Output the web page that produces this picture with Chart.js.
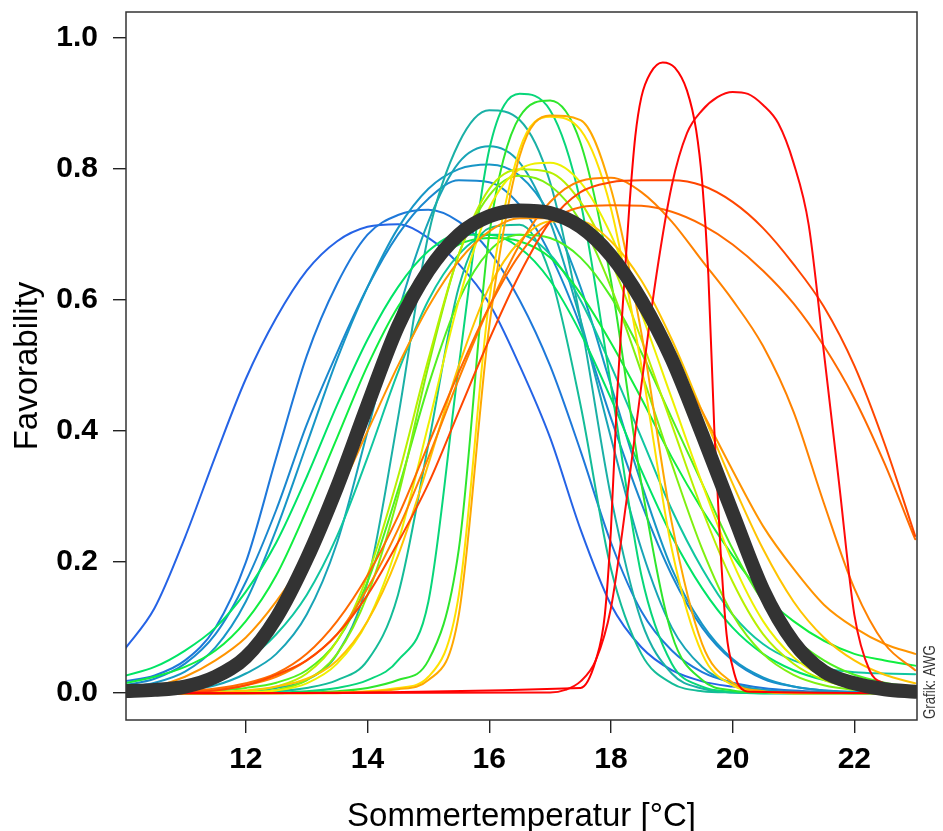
<!DOCTYPE html>
<html>
<head>
<meta charset="utf-8">
<script src="https://cdn.jsdelivr.net/npm/chart.js@4.4.1/dist/chart.umd.min.js"></script>
<style>
  html, body { margin: 0; padding: 0; background: #ffffff; }
  canvas { display: block; }
</style>
</head>
<body>
<canvas id="c" width="943" height="831"></canvas>
<script>
// ---------- DATA ----------
const temps = [10,10.5,11,11.5,12,12.5,13,13.5,14,14.5,15,15.5,16,16.5,17,17.5,18,18.5,19,19.5,20,20.5,21,21.5,22,22.5,23];

const s01 = [0.066,0.13,0.238,0.362,0.48,0.573,0.645,0.69,0.712,0.716,0.695,0.655,0.595,0.50,0.39,0.25,0.135,0.07,0.035,0.018,0.01,0.005,0.002,0.001,0,0,0];
const s02 = [0.018,0.027,0.05,0.10,0.20,0.36,0.515,0.625,0.70,0.73,0.738,0.72,0.675,0.60,0.50,0.37,0.23,0.125,0.065,0.032,0.016,0.008,0.004,0.002,0.001,0,0];
const s03 = [0.012,0.022,0.045,0.09,0.17,0.28,0.41,0.52,0.62,0.70,0.755,0.783,0.78,0.745,0.67,0.56,0.42,0.29,0.18,0.10,0.05,0.022,0.01,0.004,0.002,0.001,0];
const s04 = [0.008,0.016,0.033,0.07,0.14,0.25,0.38,0.51,0.62,0.71,0.77,0.80,0.807,0.79,0.73,0.62,0.47,0.32,0.19,0.105,0.052,0.024,0.01,0.004,0.002,0.001,0];
const s05 = [0,0.002,0.005,0.012,0.03,0.06,0.12,0.23,0.40,0.58,0.72,0.81,0.835,0.81,0.72,0.57,0.39,0.22,0.10,0.04,0.015,0.005,0.002,0.001,0,0,0];
const s06 = [0,0,0,0.001,0.003,0.008,0.02,0.06,0.17,0.42,0.70,0.84,0.89,0.875,0.78,0.57,0.30,0.11,0.03,0.007,0.001,0,0,0,0,0,0];
const s07 = [0,0,0,0,0.001,0.003,0.008,0.02,0.05,0.15,0.38,0.62,0.71,0.715,0.64,0.44,0.19,0.06,0.015,0.003,0.001,0,0,0,0,0,0];
const s08 = [0.003,0.006,0.012,0.025,0.05,0.09,0.15,0.24,0.36,0.49,0.60,0.67,0.70,0.70,0.67,0.60,0.50,0.39,0.28,0.19,0.12,0.075,0.05,0.038,0.032,0.03,0.029];
const s09 = [0,0,0,0,0,0.001,0.003,0.008,0.02,0.05,0.14,0.50,0.83,0.915,0.89,0.75,0.47,0.18,0.045,0.01,0.002,0,0,0,0,0,0];
const s10 = [0.026,0.04,0.065,0.10,0.155,0.23,0.33,0.44,0.54,0.62,0.675,0.70,0.70,0.68,0.63,0.55,0.45,0.34,0.24,0.16,0.10,0.06,0.035,0.02,0.011,0.006,0.003];
const s11 = [0.015,0.025,0.04,0.065,0.11,0.18,0.28,0.39,0.50,0.59,0.65,0.685,0.695,0.69,0.665,0.61,0.535,0.45,0.36,0.28,0.21,0.15,0.11,0.08,0.06,0.05,0.042];
const s12 = [0,0,0,0,0,0,0.001,0.003,0.008,0.02,0.05,0.22,0.70,0.88,0.905,0.84,0.63,0.32,0.09,0.02,0.004,0.001,0,0,0,0,0];
const s13 = [0,0.001,0.002,0.004,0.008,0.016,0.035,0.08,0.17,0.31,0.47,0.60,0.675,0.70,0.695,0.665,0.605,0.52,0.42,0.32,0.22,0.14,0.085,0.05,0.028,0.016,0.009];
const s14 = [0,0,0,0,0.002,0.005,0.02,0.06,0.15,0.30,0.50,0.67,0.76,0.79,0.775,0.72,0.62,0.49,0.35,0.22,0.12,0.06,0.028,0.012,0.005,0.002,0.001];
const s15 = [0,0,0,0.001,0.003,0.01,0.03,0.08,0.18,0.33,0.51,0.67,0.77,0.80,0.795,0.75,0.66,0.54,0.41,0.28,0.17,0.09,0.045,0.02,0.008,0.003,0.001];
const s16 = [0,0,0,0,0.001,0.004,0.015,0.045,0.11,0.23,0.41,0.60,0.74,0.80,0.81,0.78,0.70,0.58,0.45,0.32,0.20,0.11,0.055,0.025,0.01,0.004,0.002];
const s17 = [0,0,0,0,0,0,0,0.001,0.003,0.008,0.025,0.15,0.60,0.83,0.88,0.86,0.74,0.50,0.22,0.06,0.012,0.002,0,0,0,0,0];
const s18 = [0,0,0.001,0.002,0.004,0.01,0.022,0.05,0.11,0.21,0.35,0.50,0.62,0.69,0.72,0.72,0.69,0.63,0.54,0.43,0.32,0.22,0.14,0.085,0.05,0.028,0.015];
const s19 = [0,0,0,0,0,0,0,0,0.002,0.006,0.02,0.12,0.56,0.82,0.882,0.875,0.77,0.55,0.26,0.075,0.016,0.003,0,0,0,0,0];
const s20 = [0.004,0.01,0.025,0.05,0.085,0.14,0.21,0.30,0.40,0.50,0.59,0.66,0.705,0.725,0.725,0.705,0.665,0.60,0.52,0.43,0.34,0.255,0.19,0.135,0.10,0.075,0.06];
const s21 = [0,0,0.002,0.005,0.012,0.025,0.05,0.09,0.16,0.25,0.36,0.48,0.59,0.685,0.75,0.782,0.787,0.765,0.72,0.66,0.60,0.53,0.43,0.29,0.16,0.075,0.035];
const s22 = [0,0.001,0.003,0.007,0.015,0.03,0.06,0.11,0.18,0.27,0.38,0.49,0.59,0.67,0.72,0.742,0.745,0.744,0.735,0.715,0.685,0.645,0.595,0.53,0.45,0.35,0.235];
const s23 = [0,0,0.001,0.004,0.012,0.028,0.05,0.09,0.15,0.23,0.32,0.43,0.54,0.64,0.72,0.765,0.78,0.783,0.783,0.775,0.75,0.71,0.655,0.59,0.50,0.38,0.24];

const tempsRed1 = [10,17.5,17.75,17.9,18.0,18.1,18.2,18.3,18.4,18.5,18.65,18.85,19.05,19.25,19.4,19.5,19.6,19.7,19.8,19.9,20.0,20.1,20.3,23];
const red1 = [0,0.008,0.05,0.12,0.25,0.45,0.60,0.74,0.85,0.91,0.947,0.963,0.955,0.92,0.86,0.78,0.64,0.40,0.22,0.09,0.04,0.012,0.002,0];
const tempsRed2 = [10,17.0,17.25,17.5,17.75,18.0,18.25,18.5,18.75,19.0,19.25,19.5,19.75,20.0,20.25,20.5,20.75,21.0,21.25,21.5,21.75,22.0,22.25,22.5,22.75,23];
const red2 = [0,0.001,0.005,0.018,0.05,0.13,0.29,0.47,0.64,0.775,0.855,0.89,0.91,0.918,0.915,0.898,0.87,0.81,0.715,0.52,0.32,0.12,0.035,0.014,0.004,0.001];

const meanCurve = [0.003,0.005,0.01,0.025,0.055,0.115,0.205,0.315,0.44,0.56,0.645,0.70,0.728,0.737,0.733,0.712,0.668,0.60,0.51,0.395,0.275,0.158,0.078,0.033,0.015,0.006,0.002];

const xTicks = [12,14,16,18,20,22];
const yTicks = [0,0.2,0.4,0.6,0.8,1.0];

// ---------- STYLES ----------
const colouredSeries = [s01,s02,s03,s04,s05,s06,s07,s08,s09,s10,s11,s12,s13,s14,s15,s16,s17,s18,s19,s20,s21,s22,s23];
const seriesColors = ['#2563e6','#1e78da','#1a88ce','#1796c6','#18a4b6','#1ab0a6','#14bc98','#10c6a0','#08d67a','#00e466','#10ee40','#2ee62c','#50f020','#80f010','#b8f000','#eef000','#ffe000','#ffc400','#ffa800','#ff9400','#ff8200','#ff6a00','#ff4600'];

const datasets = [];
const N = colouredSeries.length + 2;
colouredSeries.forEach((vals, i) => {
  datasets.push({
    data: temps.map((t, k) => ({x: t, y: vals[k]})),
    borderColor: seriesColors[i], borderWidth: 2, order: N - i, clip: 0
  });
});
datasets.push({ data: tempsRed2.map((t,k)=>({x:t,y:red2[k]})), borderColor:'#ff0a0a', borderWidth:2, order: 2, clip: 0 });
datasets.push({ data: tempsRed1.map((t,k)=>({x:t,y:red1[k]})), borderColor:'#ff0000', borderWidth:2, order: 1, clip: 0 });
datasets.push({ data: temps.map((t,k)=>({x:t,y:meanCurve[k]})), borderColor:'#333333', borderWidth:14, order: 0, clip: 0 });

const FONT = "'Liberation Sans', Arial, sans-serif";

const decor = {
  id: 'decor',
  afterDraw(chart) {
    const {ctx, chartArea: a} = chart;
    ctx.save();
    ctx.strokeStyle = '#333';
    ctx.lineWidth = 1.5;
    ctx.strokeRect(a.left, a.top, a.right - a.left, a.bottom - a.top);
    ctx.fillStyle = '#000';
    ctx.font = "33px " + FONT;
    ctx.textAlign = 'center';
    ctx.textBaseline = 'alphabetic';
    ctx.fillText('Sommertemperatur [°C]', (a.left + a.right) / 2, 826);
    ctx.save();
    ctx.translate(37, 366);
    ctx.rotate(-Math.PI / 2);
    ctx.fillText('Favorability', 0, 0);
    ctx.restore();
    ctx.save();
    ctx.translate(935, 719);
    ctx.rotate(-Math.PI / 2);
    ctx.scale(0.78, 1);
    ctx.fillStyle = '#333';
    ctx.font = "17px " + FONT;
    ctx.textAlign = 'left';
    ctx.fillText('Grafik: AWG', 0, 0);
    ctx.restore();
    ctx.restore();
  }
};

new Chart(document.getElementById('c').getContext('2d'), {
  type: 'line',
  data: { datasets },
  options: {
    responsive: false,
    animation: false,
    devicePixelRatio: 1,
    layout: { padding: { left: 0, right: 26, top: 12, bottom: 0 } },
    plugins: { legend: { display: false }, tooltip: { enabled: false } },
    elements: {
      point: { radius: 0, hoverRadius: 0 },
      line: { cubicInterpolationMode: 'monotone', fill: false, borderCapStyle: 'round', borderJoinStyle: 'round' }
    },
    scales: {
      x: {
        type: 'linear', min: 10.03, max: 23.03,
        afterBuildTicks: s => { s.ticks = xTicks.map(v => ({ value: v })); },
        afterFit: s => { s.height = 111; s.paddingLeft = 0; s.paddingRight = 0; },
        border: { display: false },
        grid: { drawOnChartArea: false, drawTicks: true, tickLength: 13, color: '#222', lineWidth: 1.4 },
        ticks: { color: '#000', padding: 9, maxRotation: 0, autoSkip: false,
                 font: { family: FONT, size: 30, weight: 'bold' } }
      },
      y: {
        type: 'linear', min: -0.041, max: 1.04,
        afterBuildTicks: s => { s.ticks = yTicks.map(v => ({ value: v })); },
        afterFit: s => { s.width = 126; s.paddingTop = 0; s.paddingBottom = 0; },
        border: { display: false },
        grid: { drawOnChartArea: false, drawTicks: true, tickLength: 13, color: '#222', lineWidth: 1.4 },
        ticks: { color: '#000', padding: 15, callback: v => v.toFixed(1),
                 font: { family: FONT, size: 30, weight: 'bold' } }
      }
    }
  },
  plugins: [decor]
});
</script>
</body>
</html>
